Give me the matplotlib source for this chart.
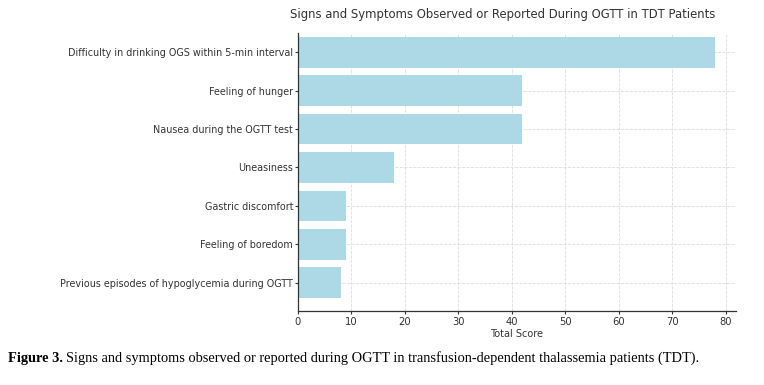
import matplotlib
matplotlib.use("Agg")
import matplotlib.pyplot as plt

symptoms = [
    "Difficulty in drinking OGS within 5-min interval",
    "Feeling of hunger",
    "Nausea during the OGTT test",
    "Uneasiness",
    "Gastric discomfort",
    "Feeling of boredom",
    "Previous episodes of hypoglycemia during OGTT",
]
scores = [78, 42, 42, 18, 9, 9, 8]
x_ticks = [0, 10, 20, 30, 40, 50, 60, 70, 80]

fig = plt.figure(figsize=(7.64, 3.85), dpi=100)
ax = fig.add_axes([0.390, 0.192, 0.573, 0.722])

pos = list(range(len(symptoms)))
ax.barh(pos, scores, height=0.8, color="#ADD8E6", zorder=2)
ax.set_yticks(pos)
ax.set_yticklabels(symptoms, fontsize=6.9, color="#333333")
ax.set_ylim(6.74, -0.5)
ax.set_xlim(0, 81.9)
ax.set_xticks(x_ticks)
ax.tick_params(axis="x", labelsize=7.2, colors="#333333", pad=2)
ax.tick_params(axis="y", pad=1)
ax.tick_params(axis="both", length=2.5, width=0.8, color="#333333")
ax.set_xlabel("Total Score", fontsize=7, color="#333333", labelpad=1)
ax.grid(True, linestyle="--", color="#dddddd", linewidth=0.6, zorder=0)
ax.set_axisbelow(True)
for s in ("top", "right"):
    ax.spines[s].set_visible(False)
for s in ("left", "bottom"):
    ax.spines[s].set_color("#333333")
    ax.spines[s].set_linewidth(0.9)

fig.text(0.658, 0.978, "Signs and Symptoms Observed or Reported During OGTT in TDT Patients",
         ha="center", va="top", fontsize=8.4, color="#333333")

fig.text(0.011, 0.07, "Figure 3.", ha="left", va="center", fontsize=10.4,
         family="Liberation Serif", weight="bold")
fig.text(0.086, 0.07, "Signs and symptoms observed or reported during OGTT in transfusion-dependent thalassemia patients (TDT).",
         ha="left", va="center", fontsize=10.4, family="Liberation Serif")

fig.savefig("out.png", dpi=100)
